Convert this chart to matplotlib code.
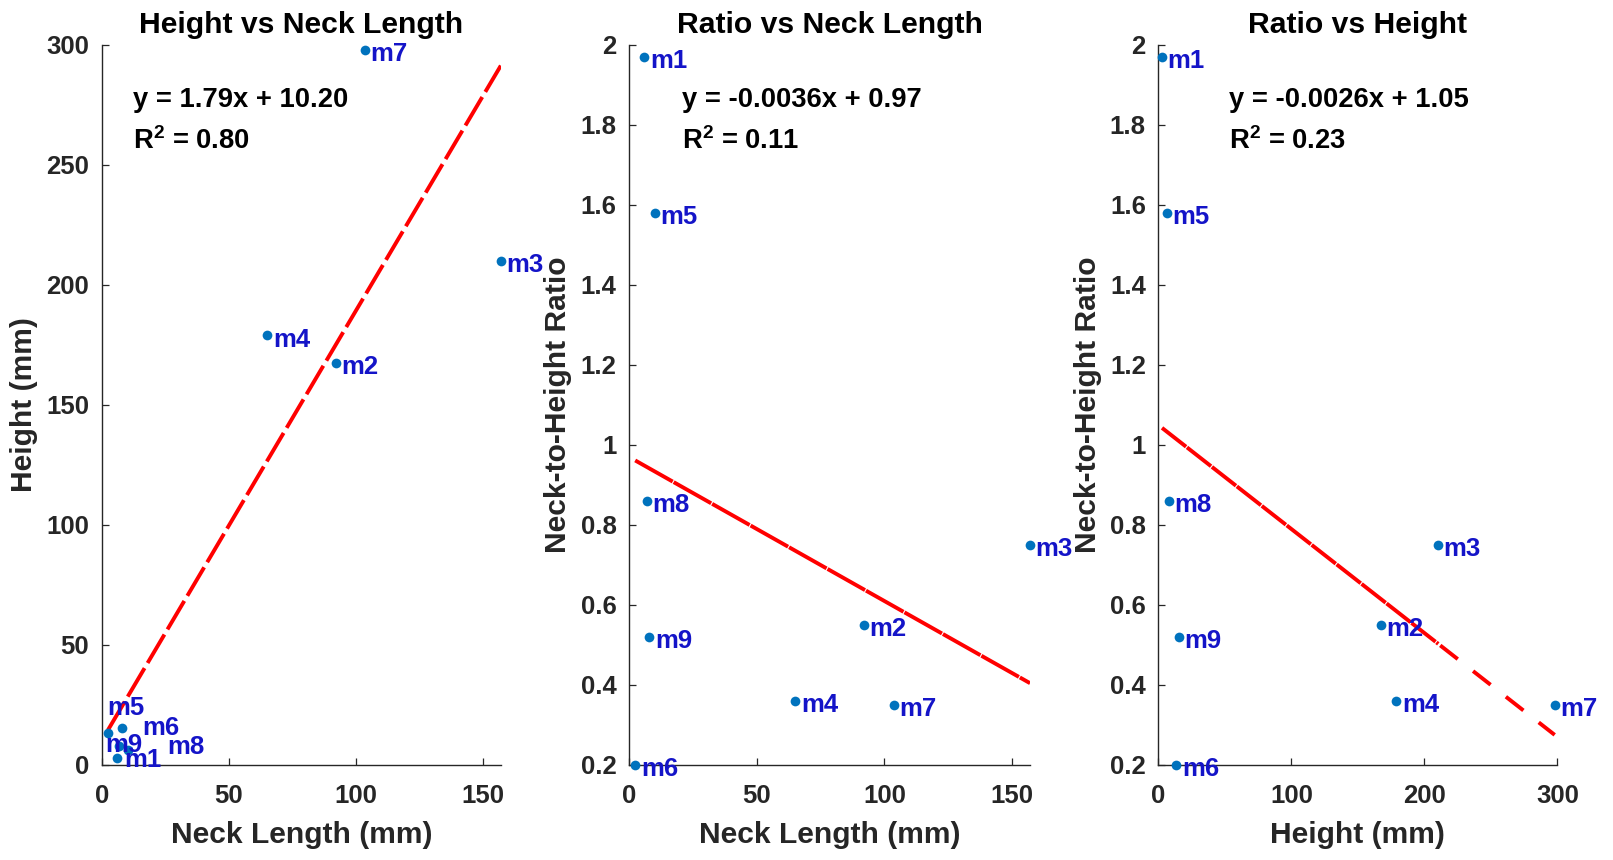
import numpy as np
import matplotlib
matplotlib.use('Agg')
import matplotlib.pyplot as plt

models = ['m1', 'm2', 'm3', 'm4', 'm5', 'm6', 'm7', 'm8', 'm9']
neck_length = [6.0, 92.1, 157.1, 65.2, 10.2, 2.4, 103.6, 6.9, 7.9]
height = [2.8, 167.5, 210.0, 179.0, 6.4, 13.5, 298.0, 8.1, 15.5]
ratio = [1.97, 0.55, 0.75, 0.36, 1.58, 0.20, 0.35, 0.86, 0.52]

# linear fits shown on each panel
fit_slope = [1.79, -0.0036, -0.0026]
fit_intercept = [10.20, 0.97, 1.05]
fit_r2 = [0.80, 0.11, 0.23]
slope_digits = [2, 4, 4]

# label offsets (points) in the first panel, where small models are crowded
lab1_dx = [5.3, 4, 4, 4, -15, 24.4, 4, 34.8, -12]
lab1_dy = [-1.2, -3, -3, -3, 30, 3.3, -3, -0.8, -12.4]

plt.rcParams['font.family'] = ['Liberation Sans', 'DejaVu Sans']
plt.rcParams['font.weight'] = 'bold'
plt.rcParams['mathtext.fontset'] = 'custom'
plt.rcParams['mathtext.rm'] = 'Liberation Sans:bold'
plt.rcParams['mathtext.bf'] = 'Liberation Sans:bold'
plt.rcParams['mathtext.default'] = 'rm'
plt.rcParams['lines.scale_dashes'] = False

dark = '#262626'
dot_color = '#0072BD'
label_color = '#1414C8'

fig = plt.figure(figsize=(16.13, 8.6), dpi=100)
ax1 = fig.add_axes([0.0631, 0.1105, 0.2474, 0.8372])
ax2 = fig.add_axes([0.3900, 0.1105, 0.2486, 0.8372])
ax3 = fig.add_axes([0.7181, 0.1105, 0.2474, 0.8372])

panels = [
    (ax1, neck_length, height, 'Height vs Neck Length', 'Neck Length (mm)', 'Height (mm)'),
    (ax2, neck_length, ratio, 'Ratio vs Neck Length', 'Neck Length (mm)', 'Neck-to-Height Ratio'),
    (ax3, height, ratio, 'Ratio vs Height', 'Height (mm)', 'Neck-to-Height Ratio'),
]

for i, (ax, xs, ys, title, xlabel, ylabel) in enumerate(panels):
    xs = np.array(xs)
    ys = np.array(ys)

    # fitted line over the data range
    xfit = np.linspace(xs.min(), xs.max(), 200)
    yfit = fit_slope[i] * xfit + fit_intercept[i]
    if i == 0:
        ax.plot(xfit, yfit, color='r', lw=2.8, dashes=(23.8, 4.3), zorder=2)
    elif i == 1:
        ax.plot(xfit, yfit, color='r', lw=2.8, dashes=(31, 0.8), zorder=2)
    else:
        solid = xfit <= 211
        ax.plot(xfit[solid], yfit[solid], color='r', lw=2.8, dashes=(22, 0.8), zorder=2)
        ax.plot(xfit[~solid], yfit[~solid], color='r', lw=2.8, dashes=(16, 14), zorder=2)

    ax.plot(xs, ys, 'o', color=dot_color, ms=7, mec='none', zorder=3, clip_on=False)

    for j, name in enumerate(models):
        if i == 0:
            off = (lab1_dx[j], lab1_dy[j])
        else:
            off = (4, -3)
        ax.annotate(name, (xs[j], ys[j]), xytext=off, textcoords='offset points',
                    ha='left', va='center', color=label_color, fontsize=18.5,
                    fontweight='bold', zorder=4, annotation_clip=False)

    eq = f'y = {fit_slope[i]:.{slope_digits[i]}f}x + {fit_intercept[i]:.2f}'
    r2 = f'R$^2$ = {fit_r2[i]:.2f}'
    tx = [0.079, 0.131, 0.178][i]
    ax.text(tx, 0.924, eq, transform=ax.transAxes, ha='left', va='center',
            fontsize=19.7, fontweight='bold', color='black')
    ax.text(tx, 0.866, r2, transform=ax.transAxes, ha='left', va='center',
            fontsize=19.7, fontweight='bold', color='black')

    ax.set_title(title, fontsize=21.7, fontweight='bold', color='black', pad=8.6)
    ax.set_xlabel(xlabel, fontsize=21.6, fontweight='bold', color=dark)
    ax.set_ylabel(ylabel, fontsize=21.6, fontweight='bold', color=dark)
    ax.xaxis.set_label_coords(0.5, -0.078)

    for side in ['top', 'right']:
        ax.spines[side].set_visible(False)
    for side in ['left', 'bottom']:
        ax.spines[side].set_color(dark)
        ax.spines[side].set_linewidth(1.0)
    ax.tick_params(direction='in', length=5, width=0.9, colors=dark, labelsize=18.5)
    ax.tick_params(axis='x', pad=14)
    ax.tick_params(axis='y', pad=9)

ax1.set_xlim(0, max(neck_length))
ax1.set_ylim(0, 300)
ax1.set_xticks([0, 50, 100, 150])
ax1.set_yticks(np.arange(0, 301, 50))
ax1.yaxis.set_label_coords(-0.16, 0.5)

ratio_ticks = np.round(np.arange(0.2, 2.01, 0.2), 1)
ratio_labels = [f'{v:g}' for v in ratio_ticks]

ax2.set_xlim(0, max(neck_length))
ax2.set_ylim(0.2, 2)
ax2.set_xticks([0, 50, 100, 150])
ax2.set_yticks(ratio_ticks)
ax2.set_yticklabels(ratio_labels)
ax2.yaxis.set_label_coords(-0.142, 0.5)

ax3.set_xlim(0, 300)
ax3.set_ylim(0.2, 2)
ax3.set_xticks([0, 100, 200, 300])
ax3.set_yticks(ratio_ticks)
ax3.set_yticklabels(ratio_labels)
ax3.yaxis.set_label_coords(-0.141, 0.5)

for ax in [ax1, ax2, ax3]:
    for lab in ax.get_xticklabels() + ax.get_yticklabels():
        lab.set_fontweight('bold')

fig.savefig('out.png', dpi=100, facecolor='white')
